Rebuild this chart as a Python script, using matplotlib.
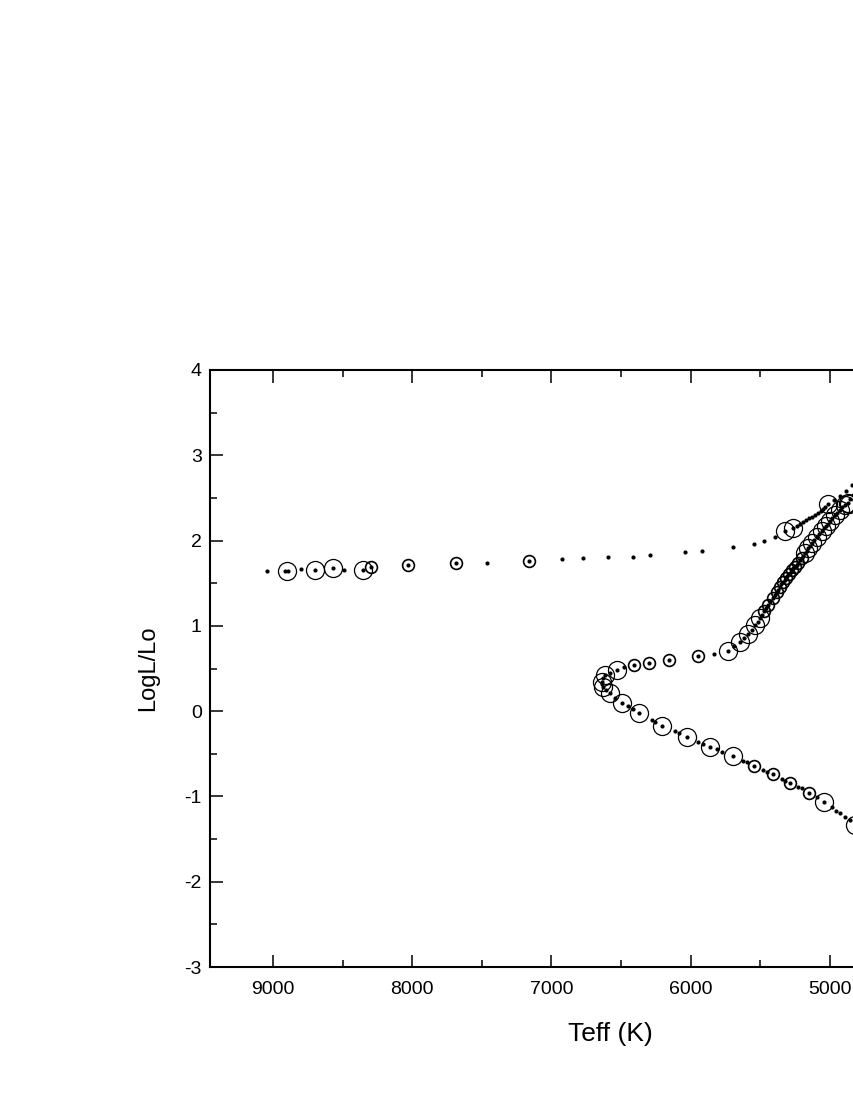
import matplotlib
matplotlib.use("Agg")
import matplotlib.pyplot as plt
from matplotlib.ticker import MultipleLocator

plt.rcParams['font.family'] = ['Liberation Sans', 'DejaVu Sans']
plt.rcParams['axes.unicode_minus'] = False

# Main sequence -> subgiant -> red giant branch (model points)
track_teff = [4425, 4641, 4784, 4823, 4856, 4893, 4928, 4957, 4987, 5041,
              5096, 5151, 5204, 5228, 5287, 5326, 5347, 5412, 5455, 5479,
              5544, 5598, 5622, 5694, 5778, 5809, 5862, 5912, 5946, 6029,
              6082, 6113, 6209, 6257, 6281, 6372, 6415, 6450, 6496, 6544,
              6580, 6608, 6628, 6637, 6640, 6633, 6616, 6580, 6527, 6479,
              6405, 6302, 6154, 5946, 5833, 5730, 5689, 5646, 5617, 5587,
              5560, 5539, 5517, 5503, 5488, 5474, 5461, 5443, 5427, 5412,
              5397, 5383, 5370, 5359, 5348, 5338, 5326, 5316, 5305, 5295,
              5283, 5273, 5262, 5252, 5240, 5230, 5215, 5204, 5191, 5180,
              5167, 5156, 5144, 5129, 5112, 5096, 5077, 5057, 5043, 5029,
              5014, 5000, 4982, 4964, 4946, 4928, 4910, 4893, 4869, 4856,
              4835, 4813, 4784, 4713, 4605]
track_logl = [-1.698, -1.487, -1.352, -1.330, -1.276, -1.237, -1.198, -1.165, -1.127, -1.061,
              -1.003, -0.956, -0.905, -0.886, -0.839, -0.815, -0.799, -0.740, -0.710, -0.690,
              -0.639, -0.600, -0.581, -0.526, -0.475, -0.447, -0.417, -0.385, -0.358, -0.299,
              -0.260, -0.233, -0.174, -0.127, -0.104, -0.018, 0.025, 0.060, 0.099, 0.154,
              0.209, 0.248, 0.287, 0.318, 0.345, 0.389, 0.424, 0.453, 0.483, 0.521,
              0.541, 0.568, 0.600, 0.647, 0.670, 0.711, 0.764, 0.814, 0.858, 0.905,
              0.957, 1.010, 1.051, 1.092, 1.133, 1.174, 1.210, 1.245, 1.286, 1.323,
              1.362, 1.401, 1.426, 1.456, 1.485, 1.514, 1.538, 1.561, 1.585, 1.608,
              1.632, 1.655, 1.673, 1.690, 1.714, 1.741, 1.767, 1.792, 1.823, 1.854,
              1.881, 1.910, 1.940, 1.972, 2.007, 2.038, 2.077, 2.112, 2.142, 2.171,
              2.200, 2.230, 2.265, 2.300, 2.329, 2.359, 2.388, 2.417, 2.437, 2.488,
              2.534, 2.575, 2.628, 2.757, 2.945]

# Horizontal branch / AGB (model points)
hb_teff = [9045, 8914, 8890, 8799, 8699, 8567, 8488, 8356, 8299, 8028,
           7686, 7465, 7159, 6927, 6776, 6597, 6412, 6293, 6042, 5922,
           5699, 5544, 5474, 5395, 5324, 5263, 5239, 5215, 5191, 5172,
           5151, 5129, 5107, 5086, 5067, 5051, 5033, 5012, 4971, 4928,
           4885, 4842, 4784, 4677]
hb_logl = [1.643, 1.643, 1.643, 1.663, 1.655, 1.675, 1.659, 1.655, 1.694, 1.714,
           1.733, 1.741, 1.764, 1.780, 1.790, 1.802, 1.811, 1.825, 1.863, 1.881,
           1.922, 1.960, 1.992, 2.038, 2.112, 2.151, 2.175, 2.200, 2.220, 2.241,
           2.262, 2.282, 2.302, 2.323, 2.345, 2.370, 2.395, 2.425, 2.476, 2.523,
           2.581, 2.646, 2.734, 2.886]

# Large open circles
big_teff = [8902, 8699, 8567, 8356, 5324, 5263, 5012,
            4823, 5041, 5694, 5862, 6029, 6209, 6372, 6496, 6580, 6628, 6640,
            6616, 6527, 5730, 5646, 5587, 5539, 5503,
            5180, 5156, 5129, 5096, 5057, 5029, 5000, 4964, 4928, 4893, 4869, 4864]
big_logl = [1.643, 1.655, 1.675, 1.650, 2.112, 2.151, 2.425,
            -1.330, -1.061, -0.526, -0.417, -0.299, -0.174, -0.018, 0.099, 0.209, 0.287, 0.345,
            0.424, 0.483, 0.711, 0.814, 0.905, 1.010, 1.092,
            1.854, 1.910, 1.972, 2.038, 2.112, 2.171, 2.230, 2.300, 2.359, 2.417, 2.437, 2.425]

# Small open circles
small_teff = [8299, 8028, 7686, 7159,
              5151, 5287, 5412, 5544,
              6405, 6302, 6154, 5946,
              5474, 5443, 5412, 5383, 5359, 5338, 5316, 5295, 5273, 5252, 5230, 5204]
small_logl = [1.694, 1.714, 1.733, 1.764,
              -0.956, -0.839, -0.740, -0.639,
              0.541, 0.568, 0.600, 0.647,
              1.174, 1.245, 1.323, 1.401, 1.456, 1.514, 1.561, 1.608, 1.655, 1.690, 1.741, 1.792]

x_ticks = [9000, 8000, 7000, 6000, 5000]
y_ticks = [-3, -2, -1, 0, 1, 2, 3, 4]

W, H = 854, 1105
fig = plt.figure(figsize=(W / 100, H / 100), dpi=100)
ax = fig.add_axes([210 / W, 1 - 967 / H, 800 / W, 597 / H])

ax.plot(track_teff, track_logl, linestyle='none', marker='o', ms=3,
        color='black', mec='black', mew=0)
ax.plot(hb_teff, hb_logl, linestyle='none', marker='o', ms=3,
        color='black', mec='black', mew=0)
ax.plot(big_teff, big_logl, linestyle='none', marker='o', ms=13,
        mfc='none', mec='black', mew=0.9)
ax.plot(small_teff, small_logl, linestyle='none', marker='o', ms=8.5,
        mfc='none', mec='black', mew=1.2)

ax.set_xlim(9452, 3707)
ax.set_ylim(-3, 4)
ax.set_xticks(x_ticks)
ax.set_yticks(y_ticks)
ax.xaxis.set_minor_locator(MultipleLocator(500))
ax.yaxis.set_minor_locator(MultipleLocator(0.5))
ax.tick_params(which='both', direction='in', top=True, right=True, width=1.1)
ax.tick_params(which='major', length=9, labelsize=14)
ax.tick_params(axis='x', which='major', pad=10)
ax.tick_params(axis='y', which='major', pad=6)
ax.tick_params(which='minor', length=5)
for s in ax.spines.values():
    s.set_linewidth(1.5)

ax.set_xlabel('Teff (K)', fontsize=19, labelpad=17)
ax.set_ylabel('LogL/Lo', fontsize=17, labelpad=18)

fig.savefig('out.png', dpi=100)
